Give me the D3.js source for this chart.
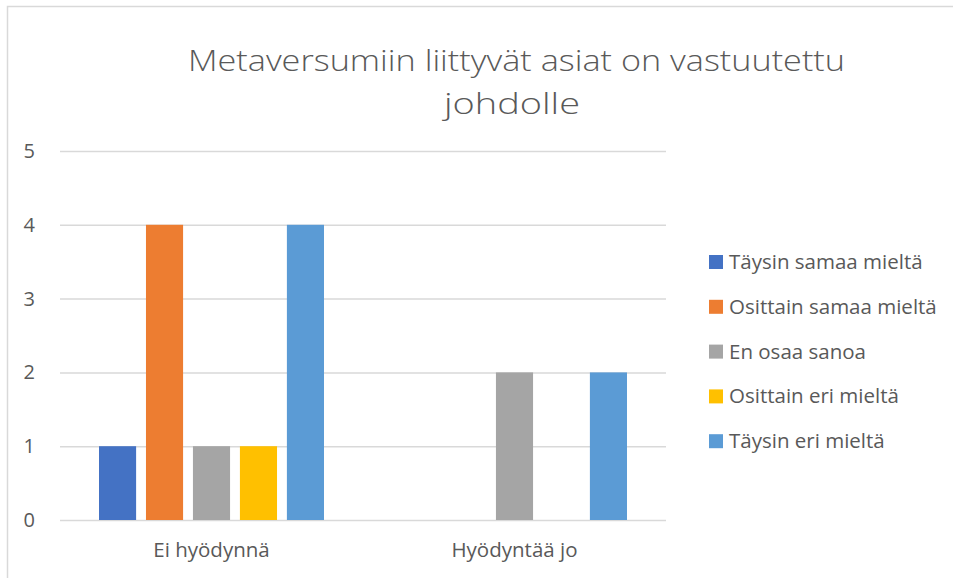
<!DOCTYPE html>
<html>
<head>
<meta charset="utf-8">
<script src="https://cdn.jsdelivr.net/npm/d3@7"></script>
<style>
  body { margin: 0; background: #fff; }
  text { font-family: "Open Sans", "Noto Sans", sans-serif; fill: #595959; }
</style>
</head>
<body>
<div id="chart"></div>
<script>
const categories = ["Ei hyödynnä", "Hyödyntää jo"];
const seriesNames = ["Täysin samaa mieltä", "Osittain samaa mieltä", "En osaa sanoa", "Osittain eri mieltä", "Täysin eri mieltä"];
const seriesColors = ["#4472C4", "#ED7D31", "#A5A5A5", "#FFC000", "#5B9BD5"];
// values per series, in category order
const valTaysinSamaa = [1, 0];
const valOsittainSamaa = [4, 0];
const valEnOsaa = [1, 2];
const valOsittainEri = [1, 0];
const valTaysinEri = [4, 2];
const yTicks = [0, 1, 2, 3, 4, 5];
const titleLines = ["Metaversumiin liittyvät asiat on vastuutettu", "johdolle"];

const seriesValues = [valTaysinSamaa, valOsittainSamaa, valEnOsaa, valOsittainEri, valTaysinEri];

const svgWidth = 953, svgHeight = 578,
    plot = { left: 60, right: 666, top: 151, bottom: 520 };

let svg = d3.select("#chart").append("svg")
    .attr("width", svgWidth)
    .attr("height", svgHeight);

// chart border
svg.append("rect")
    .attr("x", 7.5).attr("y", 6.5)
    .attr("width", 980).attr("height", 600)
    .attr("fill", "none")
    .attr("stroke", "#D9D9D9")
    .attr("stroke-width", 1.5);

// title
svg.append("text")
    .attr("text-anchor", "middle")
    .style("font-size", "30px")
    .style("font-weight", 300)
    .selectAll("tspan")
    .data(titleLines)
    .join("tspan")
    .attr("x", (d, i) => i == 0 ? 516.5 : 512)
    .attr("y", (d, i) => 71 + i * 43)
    .attr("textLength", (d, i) => i == 0 ? 657 : 136)
    .attr("lengthAdjust", "spacingAndGlyphs")
    .text(d => d);

let yScale = d3.scaleLinear()
    .domain([0, 5])
    .range([plot.bottom, plot.top]);

let xScale = d3.scaleBand()
    .domain(categories)
    .range([plot.left, plot.right]);

let innerPad = 39;
let xInner = d3.scaleBand()
    .domain(seriesNames)
    .range([innerPad, xScale.bandwidth() - innerPad])
    .paddingInner(0.21);

// gridlines + y labels
let yAxis = svg.append("g")
    .attr("transform", `translate(${plot.left},0)`)
    .call(d3.axisLeft(yScale).tickValues(yTicks).tickFormat(d3.format("d"))
        .tickSize(-(plot.right - plot.left)).tickPadding(25));
yAxis.select(".domain").remove();
yAxis.selectAll(".tick line")
    .attr("stroke", "#D9D9D9")
    .attr("stroke-width", 1.5);
yAxis.selectAll(".tick text")
    .attr("fill", "#595959")
    .style("font-size", "20px")
    .style("font-family", "\"Open Sans\", sans-serif");

// x labels
let xAxis = svg.append("g")
    .attr("transform", `translate(0,${plot.bottom})`)
    .call(d3.axisBottom(xScale).tickSize(0).tickPadding(22));
xAxis.select(".domain").remove();
xAxis.selectAll(".tick text")
    .attr("fill", "#595959")
    .style("font-size", "20.5px")
    .style("font-family", "\"Open Sans\", sans-serif");

// bars
let barData = [];
categories.forEach((c, ci) => {
    seriesNames.forEach((s, si) => {
        barData.push({ cat: c, series: s, value: seriesValues[si][ci], color: seriesColors[si] });
    });
});

svg.append("g")
    .selectAll("rect")
    .data(barData.filter(d => d.value > 0))
    .join("rect")
    .attr("x", d => xScale(d.cat) + xInner(d.series))
    .attr("width", xInner.bandwidth())
    .attr("y", d => yScale(d.value))
    .attr("height", d => yScale(0) - yScale(d.value))
    .attr("fill", d => d.color);

// legend
let legend = svg.append("g")
    .attr("transform", "translate(709,262)");
let items = legend.selectAll("g")
    .data(seriesNames)
    .join("g")
    .attr("transform", (d, i) => `translate(0,${i * 44.8})`);
items.append("rect")
    .attr("x", 0).attr("y", -7)
    .attr("width", 14).attr("height", 14)
    .attr("fill", (d, i) => seriesColors[i]);
items.append("text")
    .attr("x", 20)
    .attr("y", 7)
    .style("font-size", "20.5px")
    .text(d => d);
</script>
</body>
</html>
